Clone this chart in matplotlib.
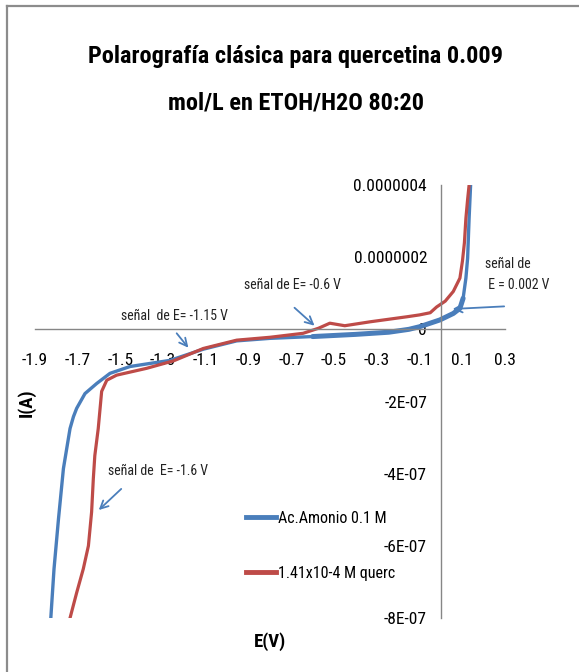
import os
import matplotlib
matplotlib.use("Agg")
import matplotlib.pyplot as plt
import matplotlib.font_manager as fm
from matplotlib.font_manager import FontProperties
from matplotlib.lines import Line2D

# blank electrolyte (ammonium acetate)
e_blank = [-1.826, -1.811, -1.790, -1.767, -1.750, -1.736, -1.720, -1.705, -1.666, -1.611, -1.549,
           -1.455, -1.268, -1.112, -0.956, -0.800, -0.600, -0.400, -0.244, -0.150,
           -0.098, -0.005, 0.058, 0.089, 0.104, 0.117, 0.125, 0.132, 0.139]
i_blank = [-8.0e-7, -6.64e-7, -5.25e-7, -3.86e-7, -3.25e-7, -2.75e-7, -2.42e-7, -2.19e-7, -1.78e-7, -1.50e-7, -1.22e-7,
           -1.03e-7, -0.86e-7, -0.55e-7, -0.32e-7, -0.25e-7, -0.20e-7, -0.14e-7, -0.08e-7, 0.0,
           0.075e-7, 0.26e-7, 0.44e-7, 0.58e-7, 0.86e-7, 1.42e-7, 1.97e-7, 3.08e-7, 4.0e-7]

# quercetin sample
e_querc = [-1.736, -1.705, -1.674, -1.650, -1.635, -1.627, -1.620, -1.604, -1.588, -1.564,
           -1.518, -1.377, -1.250, -1.112, -0.956, -0.800, -0.645, -0.573, -0.520, -0.480,
           -0.450, -0.330, -0.157, -0.100, -0.050, -0.020, 0.020, 0.058, 0.089, 0.101,
           0.110, 0.117, 0.125, 0.132]
i_querc = [-8.0e-7, -7.3e-7, -6.64e-7, -6.0e-7, -5.06e-7, -4.14e-7, -3.5e-7, -2.75e-7, -1.72e-7, -1.41e-7,
           -1.27e-7, -1.08e-7, -0.87e-7, -0.53e-7, -0.30e-7, -0.22e-7, -0.11e-7, 0.03e-7, 0.17e-7, 0.13e-7,
           0.10e-7, 0.21e-7, 0.35e-7, 0.40e-7, 0.46e-7, 0.62e-7, 0.78e-7, 1.05e-7, 1.42e-7, 1.90e-7,
           2.40e-7, 3.08e-7, 3.60e-7, 4.0e-7]

x_ticks = [-1.9, -1.7, -1.5, -1.3, -1.1, -0.9, -0.7, -0.5, -0.3, -0.1, 0.1, 0.3]
x_labels = ["-1.9", "-1.7", "-1.5", "-1.3", "-1.1", "-0.9", "-0.7", "-0.5", "-0.3", "-0.1", "0.1", "0.3"]
y_ticks = [-8e-7, -6e-7, -4e-7, -2e-7, 0, 2e-7, 4e-7]
y_labels = ["-8E-07", "-6E-07", "-4E-07", "-2E-07", "0", "0.0000002", "0.0000004"]

series_names = ["Ac.Amonio 0.1 M", "1.41x10-4 M querc"]
blue = "#4a7ebb"
red = "#be4b48"
axis_gray = "#868686"


def narrow_font(size, bold=False):
    """Look for an installed narrow/condensed sans face, else plain Liberation Sans."""
    best, best_rank = None, 99
    for f in fm.fontManager.ttflist:
        base = os.path.basename(f.fname)
        tag = f.name + " " + base
        if "Serif" in tag or "Mono" in tag or f.style != "normal":
            continue
        if not ("Narrow" in tag or "Condensed" in tag or "condensed" in str(f.stretch)):
            continue
        w = f.weight
        is_bold = ("bold" in w or "heavy" in w or "black" in w) if isinstance(w, str) else w >= 600
        is_bold = is_bold or "Bold" in base
        if is_bold != bold:
            continue
        if "Liberation" in tag:
            rank = 0
        elif "Roboto" in tag:
            rank = 1
        elif "DejaVu" in tag:
            rank = 2
        else:
            rank = 3
        if rank < best_rank:
            best, best_rank = f, rank
    if best is None:
        return FontProperties(family=["Liberation Sans", "DejaVu Sans"], size=size,
                              weight="bold" if bold else "normal")
    return FontProperties(fname=best.fname, size=size)


tick_fp = narrow_font(12.5)
note_fp = narrow_font(10)
legend_fp = narrow_font(11.5)
label_fp = narrow_font(13.5, bold=True)
title_fp = narrow_font(17.5, bold=True)

W, H = 579, 672
fig = plt.figure(figsize=(W / 100, H / 100), dpi=100)
ax = fig.add_axes([35 / W, 1 - 618 / H, (505 - 35) / W, (618 - 185) / H])

ax.plot(e_blank, i_blank, color=blue, lw=2.4, label=series_names[0])
# the blank trace is drawn heavier where its points pile up near 0 V
dense = [k for k, e in enumerate(e_blank) if -0.6 <= e <= 0.11]
ax.plot(e_blank[dense[0]:dense[-1] + 1], i_blank[dense[0]:dense[-1] + 1],
        color=blue, lw=3.6, solid_capstyle='round')
ax.plot(e_querc, i_querc, color=red, lw=2.3, label=series_names[1])

ax.set_xlim(-1.9, 0.3)
ax.set_ylim(-8e-7, 4e-7)
ax.spines['left'].set_position(('data', 0))
ax.spines['bottom'].set_position(('data', 0))
for s in ['top', 'right']:
    ax.spines[s].set_visible(False)
for s in ['left', 'bottom']:
    ax.spines[s].set_color(axis_gray)
    ax.spines[s].set_linewidth(1.0)

ax.set_xticks(x_ticks)
ax.set_xticklabels(x_labels, fontproperties=tick_fp)
ax.set_yticks(y_ticks)
ax.set_yticklabels(y_labels, fontproperties=tick_fp)
ax.tick_params(axis='x', length=0, pad=17)
ax.tick_params(axis='y', length=0, pad=10)

# annotations for the reduction signals
arrow = dict(arrowstyle='->', color=blue, lw=1.3, mutation_scale=14)
ax.text(-0.693, 1.22e-7, "señal de E= -0.6 V", ha='center', va='center',
        fontproperties=note_fp, color='#222222')
ax.annotate('', xy=(-0.582, 0.05e-7), xytext=(-0.695, 0.65e-7), arrowprops=arrow)
ax.text(-1.245, 0.36e-7, "señal  de E= -1.15 V", ha='center', va='center',
        fontproperties=note_fp, color='#222222')
ax.annotate('', xy=(-1.174, -0.57e-7), xytext=(-1.245, -0.05e-7), arrowprops=arrow)
ax.text(-1.559, -3.92e-7, "señal de  E= -1.6 V", ha='left', va='center',
        fontproperties=note_fp, color='#222222')
ax.annotate('', xy=(-1.611, -5.06e-7), xytext=(-1.487, -4.37e-7), arrowprops=arrow)
ax.text(0.205, 1.52e-7, "señal de\n E = 0.002 V", ha='left', va='center', linespacing=1.6,
        fontproperties=note_fp, color='#222222')
ax.annotate('', xy=(0.042, 0.56e-7), xytext=(0.309, 0.64e-7), arrowprops=arrow,
            annotation_clip=False)

leg = ax.legend(loc='upper left', bbox_to_anchor=(246 / W, 1 - 511 / H),
                bbox_transform=fig.transFigure, frameon=False, prop=legend_fp,
                handlelength=1.85, handletextpad=0.15, labelspacing=2.5, borderpad=0,
                borderaxespad=0)
for line in leg.get_lines():
    line.set_linewidth(3.5)

fig.text(26 / W, 1 - 403 / H, "I(A)", rotation=90, ha='center', va='center',
         fontproperties=label_fp)
fig.text(270 / W, 1 - 642 / H, "E(V)", ha='center', va='center', fontproperties=label_fp)

fig.text(296 / W, 1 - 57 / H, "Polarografía clásica para quercetina 0.009",
         ha='center', va='center', fontproperties=title_fp)
fig.text(296 / W, 1 - 103 / H, "mol/L en ETOH/H2O 80:20",
         ha='center', va='center', fontproperties=title_fp)

# chart area frame (left and top edges)
fig.add_artist(Line2D([7 / W, 7 / W], [0, 1 - 6 / H], transform=fig.transFigure,
                      color='#8c8c8c', lw=1.6))
fig.add_artist(Line2D([7 / W, 1], [1 - 6 / H, 1 - 6 / H], transform=fig.transFigure,
                      color='#8c8c8c', lw=1.6))

fig.savefig("out.png", dpi=100)
